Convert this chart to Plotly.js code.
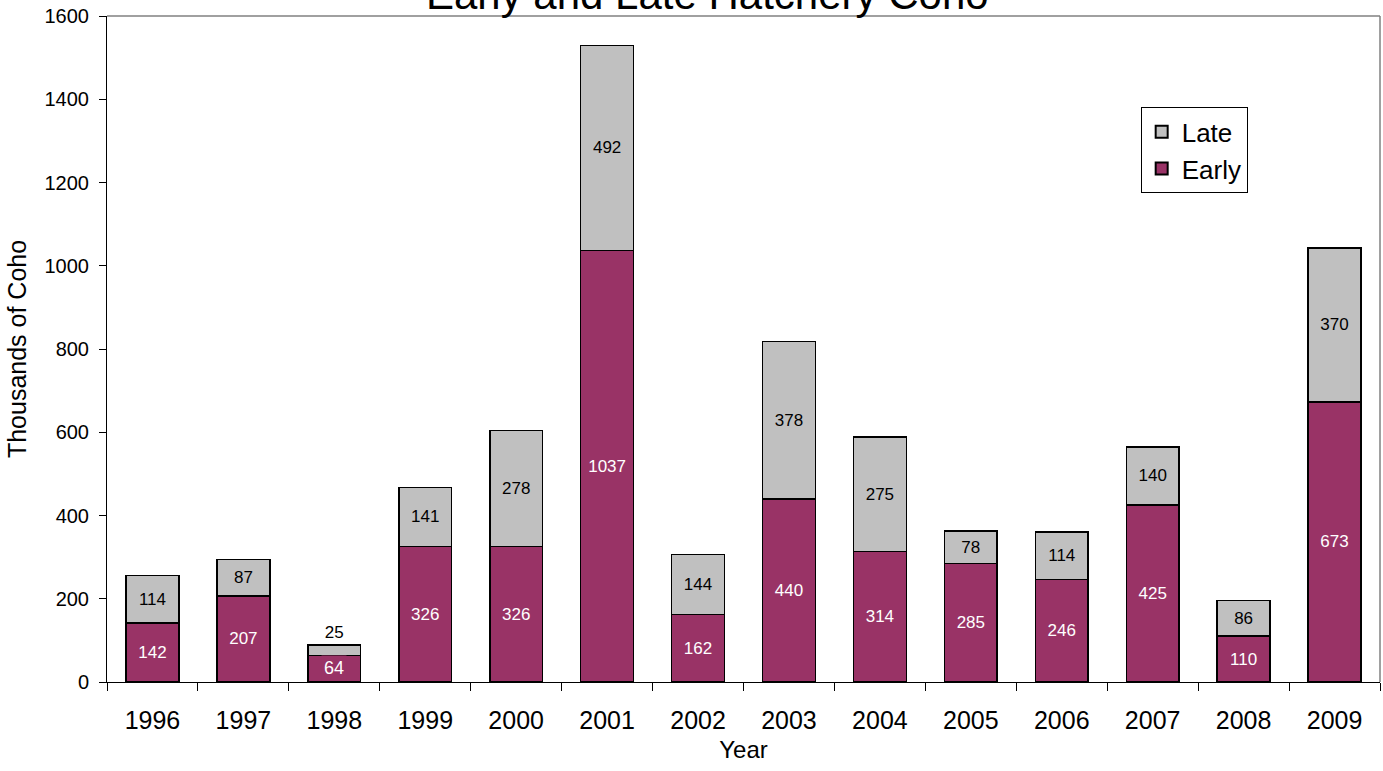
<!DOCTYPE html>
<html>
<head>
<meta charset="utf-8">
<script src="https://cdn.plot.ly/plotly-3.0.1.min.js"></script>
<style>
  html, body { margin: 0; padding: 0; background: #ffffff; }
  #chart { width: 1383px; height: 771px; }
</style>
</head>
<body>
<div id="chart"></div>
<script>
// Hatchery coho releases by year, in thousands
const years = ['1996', '1997', '1998', '1999', '2000', '2001', '2002',
               '2003', '2004', '2005', '2006', '2007', '2008', '2009'];
const early = [142, 207, 64, 326, 326, 1037, 162, 440, 314, 285, 246, 425, 110, 673];
const late  = [114, 87, 25, 141, 278, 492, 144, 378, 275, 78, 114, 140, 86, 370];
const yTicks = [0, 200, 400, 600, 800, 1000, 1200, 1400, 1600];

const EARLY_COLOR = '#993366';
const LATE_COLOR = '#C0C0C0';
const FONT = 'Liberation Sans, Arial, sans-serif';

// Segments too short to hold their label: early ones get a boxed note,
// late ones put the label above the bar
const MIN_INSIDE = 70;
const earlyText = early.map(v => (v >= MIN_INSIDE ? String(v) : ''));
const lateText = late.map(v => String(v));
const latePos = late.map(v => (v >= MIN_INSIDE ? 'inside' : 'outside'));

const traces = [
  {
    type: 'bar', name: 'Early', x: years, y: early,
    marker: { color: EARLY_COLOR, line: { color: '#000000', width: 1.5 } },
    text: earlyText, textposition: 'inside', insidetextanchor: 'middle',
    constraintext: 'none',
    textfont: { family: FONT, size: 17, color: '#ffffff' },
    hoverinfo: 'x+y+name'
  },
  {
    type: 'bar', name: 'Late', x: years, y: late,
    marker: { color: LATE_COLOR, line: { color: '#000000', width: 1.5 } },
    text: lateText, textposition: latePos, insidetextanchor: 'middle',
    constraintext: 'none', cliponaxis: false,
    textfont: { family: FONT, size: 17, color: '#000000' },
    outsidetextfont: { family: FONT, size: 17, color: '#000000' },
    hoverinfo: 'x+y+name'
  }
];

const notes = [];
early.forEach((v, i) => {
  if (v < MIN_INSIDE) {
    notes.push({
      x: i, y: v, xref: 'x', yref: 'y',
      yanchor: 'top', showarrow: false, text: String(v),
      bgcolor: EARLY_COLOR, borderpad: 2,
      font: { family: FONT, size: 18, color: '#ffffff' }
    });
  }
});
// Chart heading, sitting above the plot frame
notes.push({
  x: 0.472, y: 1.032, xref: 'paper', yref: 'paper',
  xanchor: 'center', yanchor: 'middle', showarrow: false,
  text: 'Early and Late Hatchery Coho',
  font: { family: FONT, size: 42, color: '#000000' }
});

const layout = {
  width: 1383, height: 771,
  margin: { l: 107, r: 3, t: 16, b: 89, pad: 0 },
  paper_bgcolor: '#ffffff', plot_bgcolor: '#ffffff',
  barmode: 'stack', bargap: 0.42,
  showlegend: true,
  legend: {
    x: 0.812, y: 0.863, xanchor: 'left', yanchor: 'top',
    traceorder: 'reversed',
    bgcolor: '#ffffff', bordercolor: '#000000', borderwidth: 1,
    font: { family: FONT, size: 26, color: '#000000' },
    itemsizing: 'constant'
  },
  xaxis: {
    type: 'category', tickson: 'boundaries', range: [-0.5, years.length - 0.5],
    ticks: 'outside', ticklen: 8, tickwidth: 1, tickcolor: '#000000',
    tickangle: 0, ticklabelstandoff: 16,
    showline: true, linecolor: '#000000', linewidth: 1,
    showgrid: false, zeroline: false,
    tickfont: { family: FONT, size: 25, color: '#000000' },
    title: { text: 'Year', font: { family: FONT, size: 24, color: '#000000' }, standoff: 8 }
  },
  yaxis: {
    range: [0, 1600], tickvals: yTicks, ticktext: yTicks.map(String),
    ticks: 'outside', ticklen: 7, tickwidth: 1, tickcolor: '#000000',
    ticklabelstandoff: 6,
    showline: true, linecolor: '#000000', linewidth: 1,
    showgrid: false, zeroline: false,
    tickfont: { family: FONT, size: 20, color: '#000000' },
    title: { text: 'Thousands of Coho', font: { family: FONT, size: 25, color: '#000000' }, standoff: 10 }
  },
  shapes: [
    { type: 'line', xref: 'paper', yref: 'paper', x0: 0, x1: 1, y0: 1, y1: 1,
      line: { color: '#808080', width: 1.5 } },
    { type: 'line', xref: 'paper', yref: 'paper', x0: 1, x1: 1, y0: 0, y1: 1,
      line: { color: '#808080', width: 1.5 } }
  ],
  annotations: notes
};

Plotly.newPlot('chart', traces, layout, { displayModeBar: false, staticPlot: true });
</script>
</body>
</html>
